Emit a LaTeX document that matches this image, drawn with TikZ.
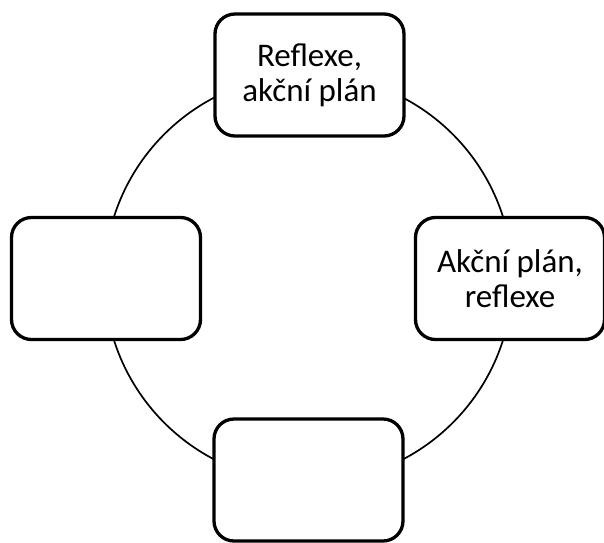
\documentclass[tikz,border=0pt]{standalone}
\usepackage{fontspec}
\setmainfont{Carlito}
\usepackage{tikz}
\usetikzlibrary{positioning}
\tikzset{
  ring/.style={line width=1.7pt,black},
  stage/.style={draw,fill=white,line width=3.3pt,rounded corners=20pt,align=center,
                minimum width=189pt,minimum height=122pt,inner sep=2pt,
                font=\fontsize{33}{35}\selectfont},
}

\begin{document}
\begin{tikzpicture}[x=1pt,y=1pt]
  \useasboundingbox (-308.5,-263.5) rectangle (295.5,278.5);
  % --- cycle ---
  \draw[ring] (0,0) coordinate (c) circle (204);
  % --- stages ---
  \node[stage] (top)    at (1,203.5)  {Reflexe,\\akční plán};
  \node[stage] (right)  at (201.5,0)  {Akční plán,\\reflexe};
  \node[stage] (bottom) at (0,-201.5) {};
  \node[stage] (left)   at (-202.5,0) {};
\end{tikzpicture}
\end{document}
